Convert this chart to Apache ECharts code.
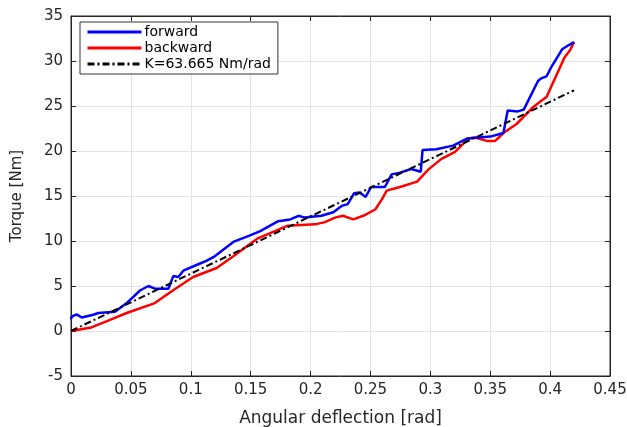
<!DOCTYPE html>
<html>
<head>
<meta charset="utf-8">
<script src="https://cdn.jsdelivr.net/npm/echarts@6/dist/echarts.min.js"></script>
<style>
  html, body { margin: 0; padding: 0; background: #fff; }
  #chart { width: 627px; height: 427px; }
</style>
</head>
<body>
<div id="chart"></div>
<script>
// forward curve
const forwardX = [0, 0.0006, 0.0047, 0.009, 0.0186, 0.0228, 0.0367, 0.0465, 0.0576, 0.0646, 0.0701, 0.0813, 0.0854, 0.0896, 0.0938, 0.1077, 0.113, 0.12, 0.1355, 0.149, 0.158, 0.173, 0.183, 0.19, 0.195, 0.209, 0.219, 0.226, 0.231, 0.2363, 0.241, 0.246, 0.2505, 0.262, 0.2677, 0.2747, 0.284, 0.292, 0.2935, 0.305, 0.319, 0.331, 0.35, 0.361, 0.3646, 0.373, 0.378, 0.39, 0.393, 0.397, 0.4005, 0.41, 0.416, 0.42]
const forwardY = [1.3, 1.6, 1.85, 1.5, 1.8, 2.0, 2.15, 3.1, 4.5, 5.0, 4.7, 4.7, 6.1, 6.0, 6.7, 7.5, 7.8, 8.3, 9.9, 10.6, 11.1, 12.2, 12.4, 12.8, 12.6, 12.8, 13.2, 13.9, 14.1, 15.3, 15.4, 14.9, 16.0, 16.0, 17.4, 17.6, 18.0, 17.7, 20.1, 20.2, 20.6, 21.4, 21.6, 22.0, 24.5, 24.4, 24.6, 27.8, 28.1, 28.3, 29.2, 31.3, 31.8, 32.1]
// backward curve
const backwardX = [0, 0.017, 0.03, 0.0465, 0.07, 0.085, 0.102, 0.1216, 0.1355, 0.156, 0.181, 0.2037, 0.212, 0.2204, 0.227, 0.2357, 0.244, 0.254, 0.2594, 0.2636, 0.2747, 0.289, 0.298, 0.309, 0.3206, 0.332, 0.337, 0.348, 0.354, 0.361, 0.372, 0.386, 0.393, 0.397, 0.412, 0.4166, 0.42]
const backwardY = [0, 0.4, 1.1, 2.0, 3.1, 4.5, 6.0, 7.0, 8.3, 10.3, 11.7, 11.85, 12.1, 12.6, 12.8, 12.4, 12.8, 13.5, 14.6, 15.6, 16.0, 16.6, 17.9, 19.1, 19.9, 21.4, 21.5, 21.1, 21.1, 22.0, 23.0, 24.9, 25.6, 26.0, 30.4, 31.2, 32.1]
// linear fit, K=63.665 Nm/rad
const fitX = [0, 0.42]
const fitY = [0, 26.74]
const xTicks = ['0', '0.05', '0.1', '0.15', '0.2', '0.25', '0.3', '0.35', '0.4', '0.45']

const pairs = (xs, ys) => xs.map((x, i) => [x, ys[i]])

const chart = echarts.init(document.getElementById('chart'))
const font = 'DejaVu Sans, sans-serif'
const axisColor = '#262626'
const gridColor = '#e3e3e3'

const option = {
  animation: false,
  backgroundColor: '#fff',
  grid: {
    left: 71,
    right: 17,
    top: 16,
    bottom: 51,
    outerBoundsMode: 'none',
    containLabel: false,
    show: true,
    borderColor: axisColor,
    borderWidth: 1
  },
  legend: {
    left: 80,
    top: 22,
    orient: 'vertical',
    backgroundColor: '#fff',
    borderColor: '#333',
    borderWidth: 1,
    borderRadius: 0,
    padding: [3, 7, 3, 6],
    itemGap: 2,
    itemWidth: 54,
    itemHeight: 14,
    itemStyle: { opacity: 0 },
    lineStyle: { width: 3 },
    textStyle: { fontFamily: font, fontSize: 14, color: '#000', padding: [0, 0, 0, -2] },
    data: ['forward', 'backward', 'K=63.665 Nm/rad']
  },
  xAxis: [
    {
      type: 'value',
      min: 0,
      max: 0.45,
      interval: 0.05,
      name: 'Angular deflection [rad]',
      nameLocation: 'middle',
      nameGap: 34,
      nameTextStyle: { fontFamily: font, fontSize: 17, color: '#262626' },
      axisLine: { show: true, onZero: false, lineStyle: { color: axisColor } },
      axisTick: { show: true, inside: true, length: 5, lineStyle: { color: axisColor } },
      axisLabel: {
        fontFamily: font,
        fontSize: 15,
        color: '#262626',
        margin: 7,
        formatter: (v) => xTicks[Math.round(v / 0.05)]
      },
      splitLine: { show: true, lineStyle: { color: gridColor } }
    },
    {
      type: 'value',
      position: 'top',
      min: 0,
      max: 0.45,
      interval: 0.05,
      axisLine: { show: true, onZero: false, lineStyle: { color: axisColor } },
      axisTick: { show: true, inside: true, length: 5, lineStyle: { color: axisColor } },
      axisLabel: { show: false },
      splitLine: { show: false }
    }
  ],
  yAxis: [
    {
      type: 'value',
      min: -5,
      max: 35,
      interval: 5,
      name: 'Torque [Nm]',
      nameLocation: 'middle',
      nameGap: 46,
      nameTextStyle: { fontFamily: font, fontSize: 15, color: '#262626' },
      axisLine: { show: true, onZero: false, lineStyle: { color: axisColor } },
      axisTick: { show: true, inside: true, length: 5, lineStyle: { color: axisColor } },
      axisLabel: { fontFamily: font, fontSize: 15, color: '#262626', margin: 8 },
      splitLine: { show: true, lineStyle: { color: gridColor } }
    },
    {
      type: 'value',
      position: 'right',
      min: -5,
      max: 35,
      interval: 5,
      axisLine: { show: true, onZero: false, lineStyle: { color: axisColor } },
      axisTick: { show: true, inside: true, length: 5, lineStyle: { color: axisColor } },
      axisLabel: { show: false },
      splitLine: { show: false }
    }
  ],
  series: [
    {
      name: 'forward',
      type: 'line',
      symbol: 'none',
      itemStyle: { color: '#0000ff' },
      lineStyle: { color: '#0000ff', width: 2.5 },
      data: pairs(forwardX, forwardY),
      z: 3
    },
    {
      name: 'backward',
      type: 'line',
      symbol: 'none',
      itemStyle: { color: '#ff0000' },
      lineStyle: { color: '#ff0000', width: 2.5 },
      data: pairs(backwardX, backwardY),
      z: 2
    },
    {
      name: 'K=63.665 Nm/rad',
      type: 'line',
      symbol: 'none',
      itemStyle: { color: '#000' },
      lineStyle: { color: '#000', width: 2, type: [7, 3, 2, 3] },
      data: pairs(fitX, fitY),
      z: 4
    }
  ]
}
chart.setOption(option)
</script>
</body>
</html>
